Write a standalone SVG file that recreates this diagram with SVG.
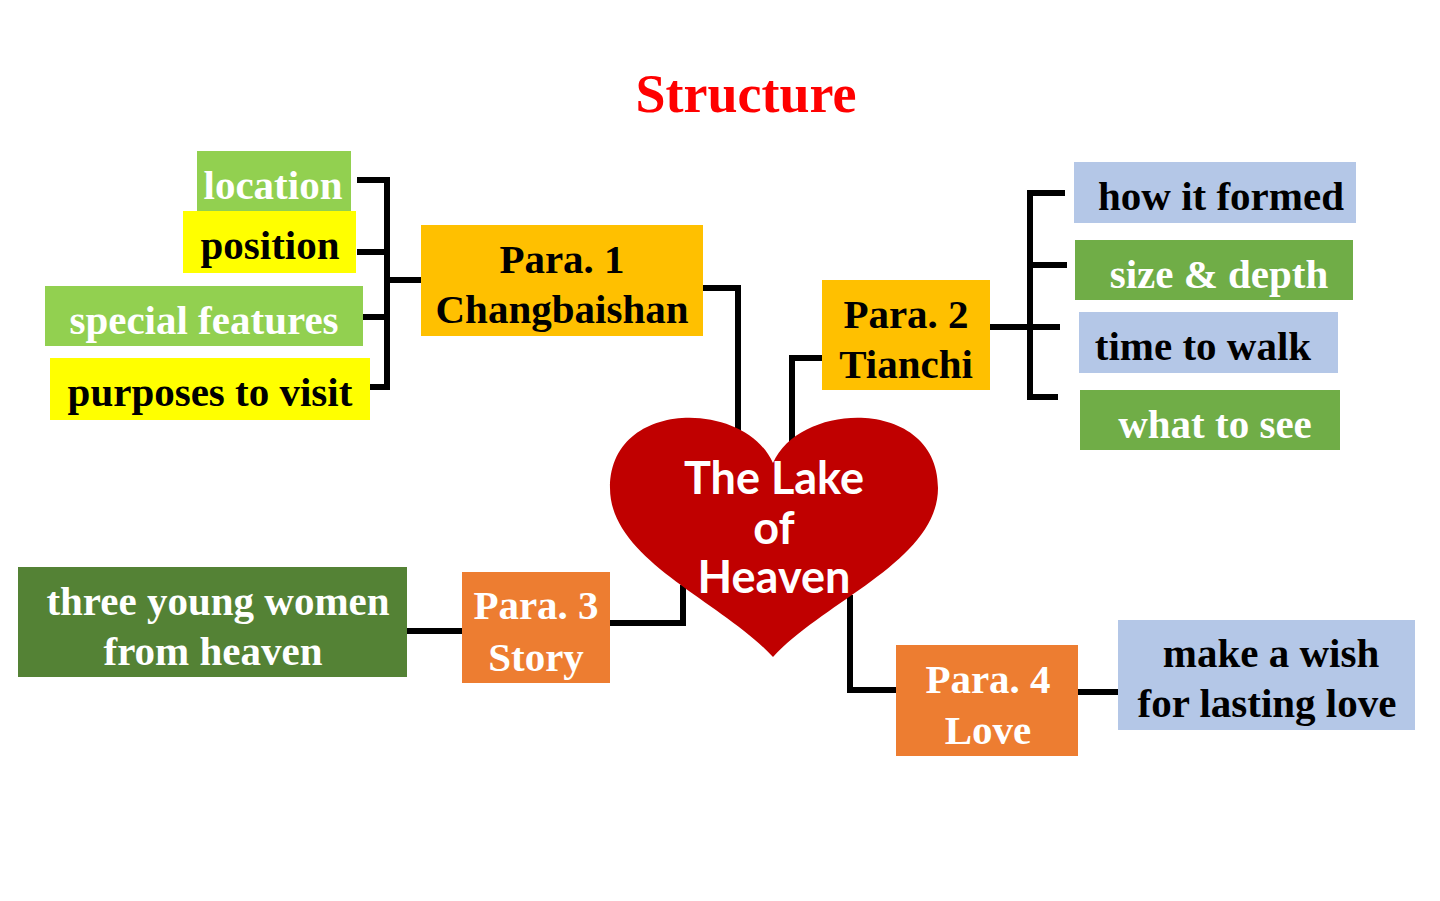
<svg xmlns="http://www.w3.org/2000/svg" width="1440" height="901" viewBox="0 0 1440 901">
<style>
.t{font-family:"Liberation Serif","Times New Roman",serif;font-weight:bold;font-size:41px;text-anchor:middle}
.w{fill:#fff}.k{fill:#000}
.c{fill:none;stroke:#000;stroke-width:6;stroke-linejoin:miter;stroke-linecap:butt}
.h{font-family:"Comic Sans MS","Lato","DejaVu Sans",sans-serif;font-weight:bold;font-size:45px;fill:#fff;text-anchor:middle}
</style>
<rect width="1440" height="901" fill="#fff"/>
<text x="746" y="112" style="font-family:'Liberation Serif',serif;font-weight:bold;font-size:54px;fill:#FF0000;text-anchor:middle">Structure</text>
<g id="connectors">
<path class="c" d="M357,180 H387 V387 H366 M357,252 H387 M363,317 H387 M387,280 H421"/>
<path class="c" d="M703,288 H738 V445"/>
<path class="c" d="M822,358 H792 V455"/>
<path class="c" d="M990,327 H1030 M1065,193 H1030 V397 H1058 M1030,265 H1067 M1030,327 H1060"/>
<path class="c" d="M610,623 H683 V585"/>
<path class="c" d="M407,631 H462"/>
<path class="c" d="M850,595 V690 H896"/>
<path class="c" d="M1078,692 H1118"/>
</g>
<g id="location"><rect x="197" y="151" width="154" height="60" fill="#92D050"/><text class="t w" x="273" y="199">location</text></g>
<g id="position"><rect x="183" y="211" width="173" height="62" fill="#FFFF00"/><text class="t k" x="270" y="259">position</text></g>
<g id="special"><rect x="45" y="286" width="318" height="60" fill="#92D050"/><text class="t w" x="204" y="334">special features</text></g>
<g id="purposes"><rect x="50" y="358" width="320" height="62" fill="#FFFF00"/><text class="t k" x="210" y="406">purposes to visit</text></g>
<g id="para1"><rect x="421" y="225" width="282" height="111" fill="#FFC000"/><text class="t k" x="562" y="273">Para. 1</text><text class="t k" x="562" y="323">Changbaishan</text></g>
<g id="para2"><rect x="822" y="280" width="168" height="110" fill="#FFC000"/><text class="t k" x="906" y="328">Para. 2</text><text class="t k" x="906" y="378">Tianchi</text></g>
<g id="how"><rect x="1074" y="162" width="282" height="61" fill="#B4C7E7"/><text class="t k" x="1221" y="210">how it formed</text></g>
<g id="size"><rect x="1075" y="240" width="278" height="60" fill="#70AD47"/><text class="t w" x="1219" y="288">size &amp; depth</text></g>
<g id="time"><rect x="1079" y="312" width="259" height="61" fill="#B4C7E7"/><text class="t k" x="1203" y="360">time to walk</text></g>
<g id="what"><rect x="1080" y="390" width="260" height="60" fill="#70AD47"/><text class="t w" x="1215" y="438">what to see</text></g>
<g id="heart"><path d="M773,463 C745,400 610,398 610,488 C610,560 720,600 773,657 C826,600 938,560 938,488 C938,398 801,400 773,463 Z" fill="#C00000"/>
<text class="h" x="774" y="494">The Lake</text><text class="h" x="774" y="544">of</text><text class="h" x="774" y="593">Heaven</text></g>
<g id="para3"><rect x="462" y="572" width="148" height="111" fill="#ED7D31"/><text class="t w" x="536" y="619">Para. 3</text><text class="t w" x="536" y="671">Story</text></g>
<g id="women"><rect x="18" y="567" width="389" height="110" fill="#548235"/><text class="t w" x="218" y="615">three young women</text><text class="t w" x="213" y="665">from heaven</text></g>
<g id="para4"><rect x="896" y="645" width="182" height="111" fill="#ED7D31"/><text class="t w" x="988" y="693">Para. 4</text><text class="t w" x="988" y="744">Love</text></g>
<g id="wish"><rect x="1118" y="620" width="297" height="110" fill="#B4C7E7"/><text class="t k" x="1271" y="667">make a wish</text><text class="t k" x="1267" y="717">for lasting love</text></g>
</svg>
